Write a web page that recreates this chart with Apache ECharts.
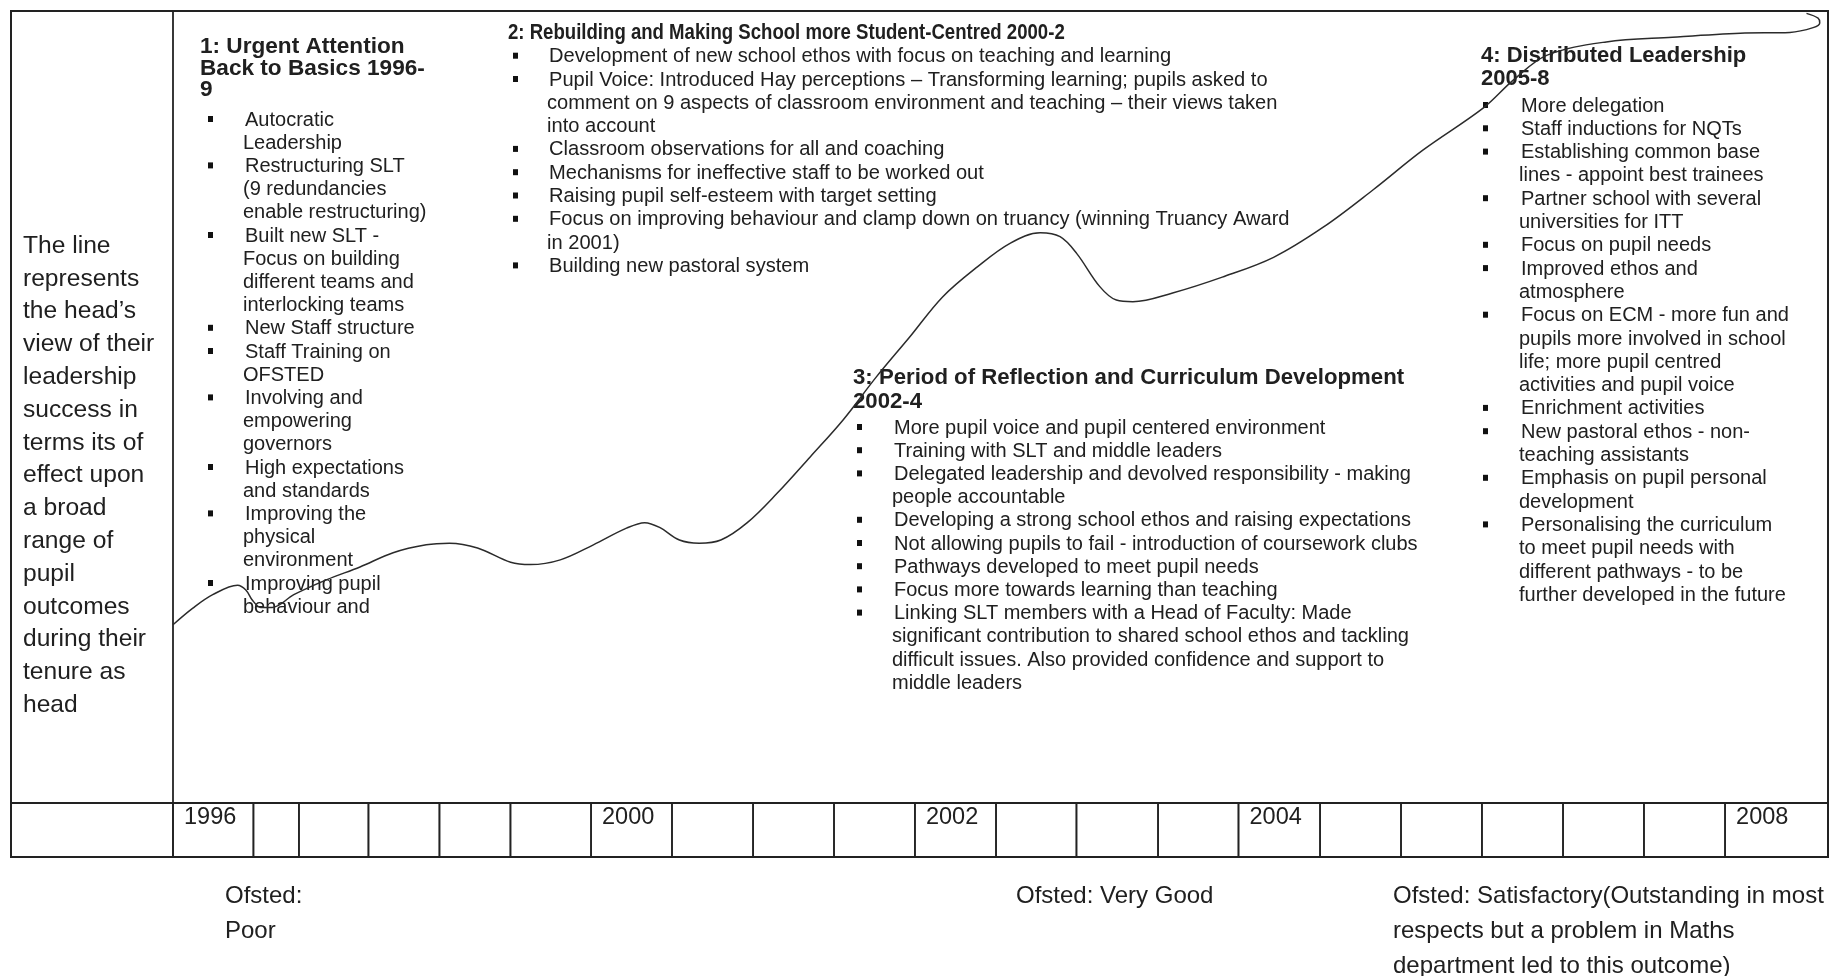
<!DOCTYPE html>
<html><head><meta charset="utf-8">
<script src="https://cdn.jsdelivr.net/npm/echarts@6/dist/echarts.min.js"></script>
<style>html,body{margin:0;padding:0;background:#fff}#c{width:1839px;height:976px}</style>
</head><body><div id="c"></div>
<script>
// ---- Data (timeline position 0-100 across the plot, perceived leadership success 0-100) ----
const curveX = [0,1.2,2.4,3.9,4.4,4.8,5.3,6.0,7.3,9.3,11.3,13.3,15.3,16.7,18.4,20.4,21.6,23.4,25.4,27.4,28.5,29.4,30.6,31.8,33.1,34.7,36.5,38.5,40.5,42.5,44.5,46.5,48.6,50.6,52.4,53.6,54.6,56.0,57.0,58.0,60.4,63.4,66.5,69.5,72.5,75.5,79.2,81.0,83.0,86.6,90.6,94.7,97.7,99.1,99.5,99.4,98.7];
const curveY = [22.5,24.6,26.3,27.5,26.9,25.6,24.7,24.7,26.3,28.2,29.8,31.6,32.6,32.8,32.2,30.4,30.1,30.7,32.6,34.7,35.4,34.8,33.2,32.8,33.2,35.4,39.1,43.7,48.4,53.8,58.8,63.9,67.7,70.7,72.0,71.5,69.4,65.2,63.5,63.3,64.4,66.4,68.9,72.7,77.4,82.4,87.8,91.3,94.4,96.1,96.7,97.2,97.3,97.9,98.5,99.1,99.7];

const yearCellEdges = [0,4.86,7.61,11.81,16.10,20.39,25.26,30.15,35.05,39.94,44.83,49.73,54.59,59.52,64.38,69.31,74.20,79.09,83.99,88.88,93.78,100];
const yearLabels = ['1996','','','','','','2000','','','','2002','','','','2004','','','','','','2008'];

const leftNote = ['The line','represents','the head\u2019s','view of their','leadership','success in','terms its of','effect upon','a broad','range of','pupil','outcomes','during their','tenure as','head'];

const phase1Title = ['1: Urgent Attention','Back to Basics 1996-','9'];
const phase1Items = [[1,'Autocratic'],[0,'Leadership'],[1,'Restructuring SLT'],[0,'(9 redundancies'],[0,'enable restructuring)'],[1,'Built new SLT -'],[0,'Focus on building'],[0,'different teams and'],[0,'interlocking teams'],[1,'New Staff structure'],[1,'Staff Training on'],[0,'OFSTED'],[1,'Involving and'],[0,'empowering'],[0,'governors'],[1,'High expectations'],[0,'and standards'],[1,'Improving the'],[0,'physical'],[0,'environment'],[1,'Improving pupil'],[0,'behaviour and']];

const phase2Title = ['2: Rebuilding and Making School more Student-Centred 2000-2'];
const phase2Items = [[1,'Development of new school ethos with focus on teaching and learning'],[1,'Pupil Voice: Introduced Hay perceptions \u2013 Transforming learning; pupils asked to'],[0,'comment on 9 aspects of classroom environment and teaching \u2013 their views taken'],[0,'into account'],[1,'Classroom observations for all and coaching'],[1,'Mechanisms for ineffective staff to be worked out'],[1,'Raising pupil self-esteem with target setting'],[1,'Focus on improving behaviour and clamp down on truancy (winning Truancy Award'],[0,'in 2001)'],[1,'Building new pastoral system']];

const phase3Title = ['3: Period of Reflection and Curriculum Development','2002-4'];
const phase3Items = [[1,'More pupil voice and pupil centered environment'],[1,'Training with SLT and middle leaders'],[1,'Delegated leadership and devolved responsibility - making'],[0,'people accountable'],[1,'Developing a strong school ethos and raising expectations'],[1,'Not allowing pupils to fail - introduction of coursework clubs'],[1,'Pathways developed to meet pupil needs'],[1,'Focus more towards learning than teaching'],[1,'Linking SLT members with a Head of Faculty: Made'],[0,'significant contribution to shared school ethos and tackling'],[0,'difficult issues. Also provided confidence and support to'],[0,'middle leaders']];

const phase4Title = ['4: Distributed Leadership','2005-8'];
const phase4Items = [[1,'More delegation'],[1,'Staff inductions for NQTs'],[1,'Establishing common base'],[0,'lines - appoint best trainees'],[1,'Partner school with several'],[0,'universities for ITT'],[1,'Focus on pupil needs'],[1,'Improved ethos and'],[0,'atmosphere'],[1,'Focus on ECM - more fun and'],[0,'pupils more involved in school'],[0,'life; more pupil centred'],[0,'activities and pupil voice'],[1,'Enrichment activities'],[1,'New pastoral ethos - non-'],[0,'teaching assistants'],[1,'Emphasis on pupil personal'],[0,'development'],[1,'Personalising the curriculum'],[0,'to meet pupil needs with'],[0,'different pathways - to be'],[0,'further developed in the future']];

const ofsted1 = ['Ofsted:','Poor'];
const ofsted2 = ['Ofsted: Very Good'];
const ofsted3 = ['Ofsted: Satisfactory(Outstanding in most','respects but a problem in Maths','department led to this outcome)'];

// ---- Build ----
const FF = '"Liberation Sans", Arial, Helvetica, sans-serif';
const TXT = '#202020';
const graphics = [];
function addLines(lines, x, y0, lh, font, sx){
  lines.forEach((t,i)=>{
    graphics.push({type:'text', x:x, y:y0+i*lh, z:1, scaleX: sx||1, style:{text:t, font:font, fill:TXT, verticalAlign:'middle', align:'left'}});
  });
}
function addBullets(items, mx, tx, y0, lh, font){
  items.forEach((it,i)=>{
    const y = y0+i*lh;
    if(it[0]){
      graphics.push({type:'rect', z:1, shape:{x:mx, y:y-4, width:5, height:6}, style:{fill:'#111'}});
    }
    graphics.push({type:'text', x: tx + (it[0]?2:0), y:y, z:1, style:{text:it[1], font:font, fill:TXT, verticalAlign:'middle', align:'left'}});
  });
}
// frame
graphics.push({type:'rect', z:0, shape:{x:11,y:11,width:1817,height:846}, style:{fill:'none', stroke:'#222', lineWidth:2}});
graphics.push({type:'line', z:0, shape:{x1:173,y1:11,x2:173,y2:857}, style:{stroke:'#222', lineWidth:1.8}});
graphics.push({type:'line', z:0, shape:{x1:11,y1:803,x2:1828,y2:803}, style:{stroke:'#222', lineWidth:1.8}});

addLines(leftNote, 23, 246, 32.8, '24.6px '+FF);
addLines(phase1Title, 200, 47, 21.5, 'bold 22.6px '+FF);
addBullets(phase1Items, 208, 243, 120, 23.2, '20px '+FF);
addLines(phase2Title, 508, 33, 23, 'bold 22px '+FF, 0.845);
addBullets(phase2Items, 513, 547, 56.7, 23.3, '20.1px '+FF);
addLines(phase3Title, 853, 377.5, 24.5, 'bold 22.2px '+FF);
addBullets(phase3Items, 857, 892, 428, 23.2, '20px '+FF);
addLines(phase4Title, 1481, 56, 23, 'bold 22px '+FF);
addBullets(phase4Items, 1483, 1519, 106, 23.3, '20px '+FF);
addLines(ofsted1, 225, 896, 35.5, '24px '+FF);
addLines(ofsted2, 1016, 896, 35.5, '24px '+FF);
addLines(ofsted3, 1393, 896, 35, '24px '+FF);

const curveData = curveX.map((x,i)=>[x, curveY[i]]);
const cellData = yearCellEdges.slice(0,-1).map((e,i)=>[e, yearCellEdges[i+1]]);

const chart = echarts.init(document.getElementById('c'), null, {renderer:'canvas'});
chart.setOption({
  backgroundColor:'#ffffff',
  animation:false,
  grid:[
    {left:173, top:11, width:1655, height:792},
    {left:173, top:803, width:1655, height:54}
  ],
  xAxis:[
    {type:'value', gridIndex:0, min:0, max:100, show:false},
    {type:'value', gridIndex:1, min:0, max:100, show:false}
  ],
  yAxis:[
    {type:'value', gridIndex:0, min:0, max:100, show:false},
    {type:'value', gridIndex:1, min:0, max:1, show:false}
  ],
  graphic: graphics,
  series:[
    {
      type:'line', xAxisIndex:0, yAxisIndex:0, data:curveData,
      smooth:0.35, symbol:'none', clip:false, z:5,
      lineStyle:{color:'#2b2b2b', width:1.5}
    },
    {
      type:'custom', xAxisIndex:1, yAxisIndex:1, data:cellData, clip:false, z:3,
      renderItem:function(params, api){
        const p0 = api.coord([api.value(0), 0]);
        const p1 = api.coord([api.value(1), 1]);
        const lab = yearLabels[params.dataIndex];
        return {type:'group', children:[
          {type:'rect', shape:{x:p0[0], y:p1[1], width:p1[0]-p0[0], height:p0[1]-p1[1]}, style:{fill:'none', stroke:'#222', lineWidth:1.6}},
          {type:'text', x:p0[0]+11, y:p1[1]+15, style:{text:lab, font:'23.5px '+FF, fill:TXT, verticalAlign:'middle', align:'left'}}
        ]};
      }
    }
  ]
});
</script>
</body></html>
